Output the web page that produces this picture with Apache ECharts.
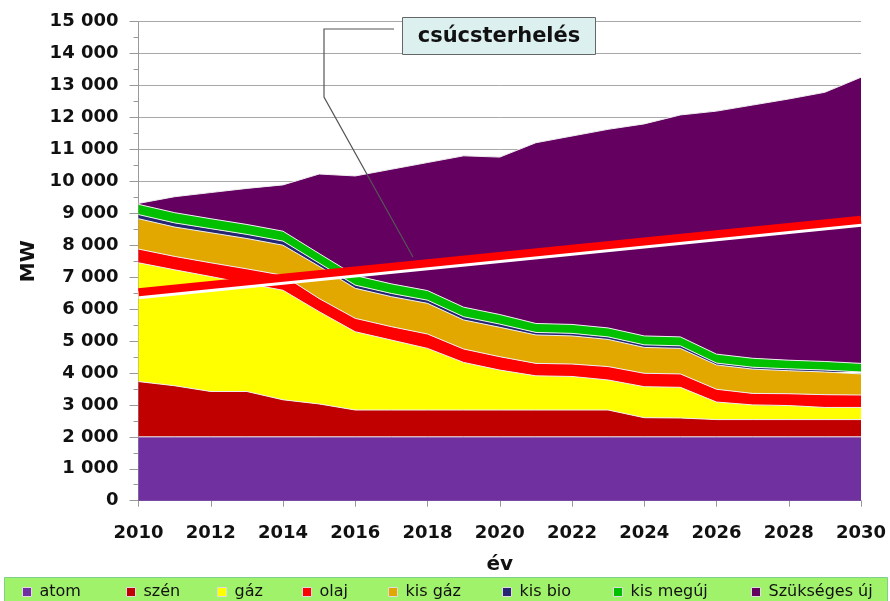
<!DOCTYPE html>
<html>
<head>
<meta charset="utf-8">
<script src="https://cdn.jsdelivr.net/npm/echarts@6/dist/echarts.min.js"></script>
<style>
html,body{margin:0;padding:0;background:#fff;}
#chart{width:890px;height:601px;}
</style>
</head>
<body>
<div id="chart"></div>
<script>
// ---- data (MW) ----
const years = ['2010','2011','2012','2013','2014','2015','2016','2017','2018','2019','2020','2021','2022','2023','2024','2025','2026','2027','2028','2029','2030'];
const atom = [2000,2000,2000,2000,2000,2000,2000,2000,2000,2000,2000,2000,2000,2000,2000,2000,2000,2000,2000,2000,2000];
const szen = [1730,1600,1420,1420,1160,1030,840,840,840,840,840,840,840,840,600,590,540,540,540,540,540];
const gaz = [3720,3630,3600,3380,3430,2890,2450,2190,1930,1490,1250,1070,1050,940,970,960,550,460,440,380,380];
const olaj = [430,420,430,460,470,410,420,420,450,420,420,390,390,420,420,420,400,360,370,400,390];
const kisGaz = [950,920,940,950,940,1010,940,940,960,910,920,890,880,850,810,800,760,760,720,710,660];
const kisBio = [130,130,130,130,130,100,100,100,100,100,100,80,80,80,80,80,60,60,60,60,60];
const kisMegujulo = [320,320,310,310,310,300,300,300,300,300,300,280,280,280,280,280,280,280,270,270,270];
const szuksegesUj = [30,500,820,1130,1450,2490,3120,3590,4010,4740,4930,5660,5900,6220,6640,6950,7610,7930,8180,8430,8960];
const peakYears = ['2010','2030'];
const peakValues = [6530,8800];
const seriesNames = ['atom','szén','gáz','olaj','kis gáz','kis bio','kis megúj','Szükséges új'];
const peakLabel = 'csúcsterhelés';

// ---- styles ----
const colors = ['#7030A0','#C00000','#FFFF00','#FF0000','#E3A800','#262673','#00C000','#640060'];
const legendLefts = [22,126,217,302,388,502,613,751];

const chart = echarts.init(document.getElementById('chart'), null, {renderer:'canvas'});
const seriesData = [atom,szen,gaz,olaj,kisGaz,kisBio,kisMegujulo,szuksegesUj];

const series = seriesNames.map((n,i)=>({
  name:n, type:'line', stack:'total', data:seriesData[i],
  symbol:'none', smooth:false,
  lineStyle:{width:1, color:'#eeeeee'},
  areaStyle:{color:colors[i], opacity:1},
  itemStyle:{color:colors[i], borderColor:'#dddddd', borderWidth:1},
  emphasis:{disabled:true},
  z:2
}));
series.push({
  name:peakLabel, type:'line',
  data:peakYears.map((y,i)=>[y,peakValues[i]]),
  symbol:'none',
  lineStyle:{width:8, color:'#FF0000', shadowColor:'#ffffff', shadowBlur:0, shadowOffsetY:3},
  z:5, emphasis:{disabled:true}
});

const fmt = v => String(v).replace(/\B(?=(\d{3})+(?!\d))/g,' ');

const option = {
  animation:false,
  backgroundColor:'#ffffff',
  grid:{left:138.5, right:29, top:21.7, bottom:100.3, containLabel:false},
  xAxis:{
    type:'category', data:years, boundaryGap:false,
    name:'év', nameLocation:'middle', nameGap:54,
    nameTextStyle:{fontFamily:'DejaVu Sans', fontWeight:'bold', fontSize:20, color:'#111'},
    axisLine:{lineStyle:{color:'#999'}},
    axisTick:{show:true, interval:1, length:6, lineStyle:{color:'#999'}},
    axisLabel:{interval:1, margin:24, fontFamily:'DejaVu Sans', fontWeight:'bold', fontSize:18, color:'#111'},
    splitLine:{show:false}
  },
  yAxis:{
    type:'value', min:0, max:15000, interval:1000,
    name:'MW', nameLocation:'middle', nameGap:100, nameRotate:90,
    nameTextStyle:{fontFamily:'DejaVu Sans', fontWeight:'bold', fontSize:20, color:'#111'},
    axisLine:{show:true, lineStyle:{color:'#999'}},
    axisTick:{show:true, length:9, lineStyle:{color:'#999'}},
    minorTick:{show:true, splitNumber:2, length:5, lineStyle:{color:'#999'}},
    axisLabel:{margin:20, formatter:fmt, fontFamily:'DejaVu Sans', fontWeight:'bold', fontSize:18, color:'#111'},
    splitLine:{show:true, lineStyle:{color:'#a8a8a8', width:1}}
  },
  legend: seriesNames.map((n,i)=>({
    data:[{name:n, icon:'rect'}], left:legendLefts[i], top:582, padding:0,
    itemWidth:9, itemHeight:9, itemGap:0, selectedMode:false,
    itemStyle:{borderColor:'#dddddd', borderWidth:1},
    textStyle:{fontFamily:'DejaVu Sans', fontSize:16, lineHeight:20, color:'#111', padding:[0,0,0,3]}
  })),
  graphic:[
    {type:'rect', shape:{x:4.5, y:577.5, width:883, height:30}, style:{fill:'#A0F26A', stroke:'#7fd08a', lineWidth:1}, z:-1, silent:true},
    {type:'polyline', shape:{points:[[394,29],[324,29],[324,97],[413,257]]}, style:{stroke:'#555', lineWidth:1.2, fill:null}, z:10, silent:true},
    {type:'rect', shape:{x:402.5, y:17.5, width:193, height:37}, style:{fill:'#DDF0F0', stroke:'#666', lineWidth:1}, z:10, silent:true},
    {type:'text', x:499, y:37, style:{text:peakLabel, fontFamily:'DejaVu Sans', fontWeight:'bold', fontSize:21, fill:'#111', align:'center', verticalAlign:'middle'}, z:11, silent:true}
  ],
  series:series
};
chart.setOption(option);
</script>
</body>
</html>
